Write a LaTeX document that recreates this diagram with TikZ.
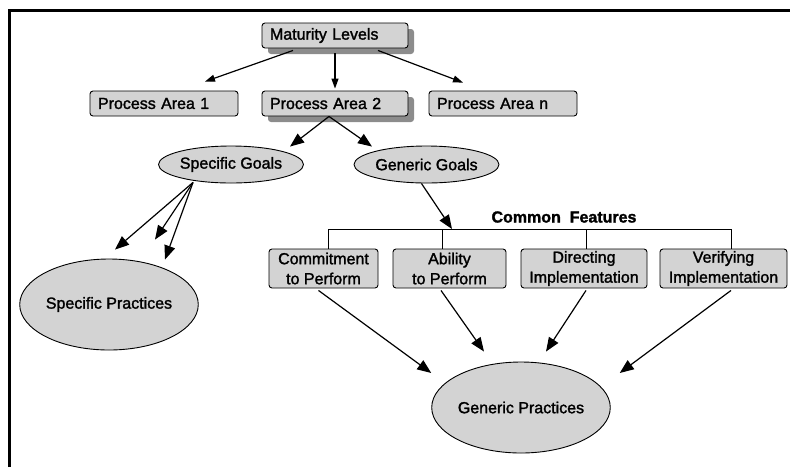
\documentclass[tikz,border=0pt]{standalone}
\usepackage{fontspec}
\setmainfont{Liberation Sans}[FakeBold=1.6]
\usepackage{tikz}
\usetikzlibrary{arrows.meta,shapes.geometric,shadows}
\usetikzlibrary{positioning}
\definecolor{boxgray}{HTML}{D3D3D3}
\definecolor{shadegray}{HTML}{8C8C8C}
\tikzset{
    level/.style={
           rectangle,
           rounded corners=3pt,
           draw=black, line width=0.9pt,
           fill=boxgray,
           minimum height=25pt,
           inner xsep=8pt, inner ysep=0pt,
           align=left,
           },
    shade box/.style={
           drop shadow={shadow xshift=6pt, shadow yshift=-6pt,
                        fill=shadegray, opacity=1},
           },
    feature/.style={
           rectangle,
           rounded corners=3pt,
           draw=black, line width=0.9pt,
           fill=boxgray,
           minimum height=39pt,
           inner sep=1pt,
           align=center,
           },
    goal/.style={
           ellipse,
           draw=black, line width=0.9pt,
           fill=boxgray,
           inner sep=0pt,
           },
    small tip/.style={-{Triangle[length=10pt,width=7pt]}},
    big tip/.style={-{Triangle[length=14pt,width=11pt]}},
}
\begin{document}
\begin{tikzpicture}[x=1pt,y=1pt,line width=1.2pt,
  font=\fontsize{16}{20}\selectfont]
 \useasboundingbox (0,0) rectangle (790,-467);
 \draw[line width=2.5pt] (9.5,-467) -- (9.5,-10.3) -- (790,-10.3);

 \node[level,shade box,
 text width=130pt] (ML) at (335,-35.5)
 {Maturity Levels};
 \node[level,shade box,
 below of=ML,
 node distance=68pt,
 text width=130pt] (PA2)
 {Process Area 2};
 \node[level,
 left of=PA2,
 node distance=171pt,
 text width=132pt] (PA1)
 {Process Area 1};
 \node[level,
 right of=PA2,
 node distance=168pt,
 text width=132pt] (PAn)
 {Process Area n};

 \node[goal,
 minimum width=145pt,
 minimum height=37pt] (SG) at (231,-164.5)
 {Specific Goals};
 \node[goal,
 right of=SG,
 node distance=195.5pt,
 minimum width=145pt,
 minimum height=37pt] (GG)
 {Generic Goals};
 \node[goal,
 minimum width=156pt,
 minimum height=91pt] (SP) at (109,-304.5)
 {Specific Practices};
 \node[goal,
 minimum width=156pt,
 minimum height=91pt] (GP) at (521,-407.5)
 {Generic Practices};

 \node[feature,
 minimum width=109pt] (CtP) at (323.5,-268.5)
 {Commitment\\to Perform};
 \node[feature,
 minimum width=113pt] (AtP) at (449.5,-268.5)
 {Ability\\to Perform};
 \node[feature,
 minimum width=126pt] (DI) at (584,-268.5)
 {Directing\\Implementation};
 \node[feature,
 minimum width=127pt] (VI) at (723.5,-268.5)
 {Verifying\\Implementation};

 \node[font=\fontsize{16}{20}\selectfont\bfseries] (CF) at (564,-217)
 {Common\ \ Features};
 \coordinate (bar1) at (328,-229);
 \coordinate (bar2) at (442,-229);
 \coordinate (bar3) at (586,-229);
 \coordinate (bar4) at (731,-229);
 \coordinate (barin) at (452,-229);

 % bracket of the common features
 \draw[line width=0.8pt] (bar1) -- (bar4);
 \foreach \b/\f in {bar1/CtP,bar2/AtP,bar3/DI,bar4/VI}
   \draw[line width=0.8pt] (\b) -- (\b |- \f.north);

 % draw the arrows
 \path[small tip]
  ([xshift=-42pt,yshift=-2pt]ML.south) edge ([xshift=41pt,yshift=9pt]PA1.north)
  ([yshift=-5pt]ML.south) edge ([yshift=2pt]PA2.north)
  ([xshift=43pt,yshift=-2pt]ML.south) edge ([xshift=-40pt,yshift=8pt]PAn.north)
 ;
 \path[big tip]
  ([xshift=-6pt]PA2.south) edge ([xshift=59pt,yshift=-1pt]SG.north)
  ([xshift=-6pt]PA2.south) edge ([xshift=-54.5pt,yshift=-1pt]GG.north)
  (GG.-105) edge (barin)
  ([xshift=-38pt,yshift=1pt]SG.south) edge ([xshift=6pt,yshift=9pt]SP.north)
  ([xshift=-38pt,yshift=1pt]SG.south) edge ([xshift=46pt,yshift=19pt]SP.north)
  ([xshift=-38pt,yshift=1pt]SG.south) edge ([xshift=56pt,yshift=-1pt]SP.north)
  ([xshift=-5pt,yshift=-2pt]CtP.south) edge ([yshift=34.5pt]GP.west)
  ([xshift=-8.5pt,yshift=-2pt]AtP.south) edge ([xshift=-37pt,yshift=10pt]GP.north)
  ([xshift=2pt,yshift=-2pt]DI.south) edge ([xshift=25pt,yshift=10pt]GP.north)
  ([xshift=7.5pt,yshift=-2pt]VI.south) edge ([xshift=9pt,yshift=34.5pt]GP.east)
 ;
\end{tikzpicture}
\end{document}
